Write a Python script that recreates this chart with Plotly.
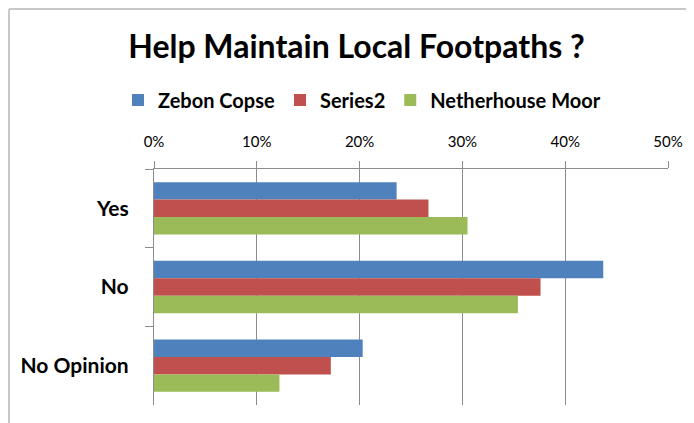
import plotly.graph_objects as go

categories = ["Yes", "No", "No Opinion"]
series_names = ["Zebon Copse", "Series2", "Netherhouse Moor"]
zebon_copse = [0.236, 0.437, 0.203]
series2 = [0.267, 0.376, 0.172]
netherhouse_moor = [0.305, 0.354, 0.122]
x_tick_values = [0, 0.1, 0.2, 0.3, 0.4, 0.5]
x_tick_labels = ["0%", "10%", "20%", "30%", "40%", "50%"]

colors = ["#4F81BD", "#C0504D", "#9BBB59"]
FONT = "Lato"

# The page body adds an 8px margin; figure is sized to fill the rest.
W, H = 686, 415
L, R, T, B = 146, 26, 161, 18
PW, PH = W - L - R, H - T - B

fig = go.Figure()
for name, vals, col in zip(series_names, [zebon_copse, series2, netherhouse_moor], colors):
    fig.add_trace(go.Bar(
        y=categories, x=vals, name=name, orientation="h",
        marker=dict(color=col, line=dict(width=0)),
    ))

border = dict(color="#C8C8C8", width=2)
fig.update_layout(
    width=W, height=H,
    margin=dict(l=L, r=R, t=T, b=B),
    paper_bgcolor="white", plot_bgcolor="white",
    barmode="group", bargap=0.335, bargroupgap=0,
    font=dict(family=FONT, color="black"),
    title=dict(text="<b>Help Maintain Local Footpaths ?</b>",
               font=dict(family=FONT, size=32, color="black"),
               x=348.5 / W, xref="container", xanchor="center",
               y=1 - 39 / H, yref="container", yanchor="middle"),
    legend=dict(orientation="h", traceorder="normal",
                x=354 / W, xref="container", xanchor="center",
                y=1 - 92 / H, yref="container", yanchor="middle",
                font=dict(family=FONT, size=20, color="black", weight="bold"),
                itemwidth=30),
    showlegend=True,
    shapes=[
        dict(type="line", xref="paper", yref="paper",
             x0=(1 - L) / PW, x1=(1 - L) / PW,
             y0=-0.3, y1=1 + (T - 1) / PH, line=border, layer="below"),
        dict(type="line", xref="paper", yref="paper",
             x0=(1 - L) / PW, x1=(W + 20 - L) / PW,
             y0=1 + (T - 1) / PH, y1=1 + (T - 1) / PH, line=border, layer="below"),
    ],
)

fig.update_xaxes(
    side="top", range=[0, 0.5], tickvals=x_tick_values, ticktext=x_tick_labels,
    showgrid=True, gridcolor="#8C8C8C", gridwidth=1.3,
    showline=True, linecolor="#8C8C8C", linewidth=1.3,
    ticks="outside", ticklen=7, tickcolor="#8C8C8C", tickwidth=1.3,
    ticklabelstandoff=8,
    tickfont=dict(family=FONT, size=15, color="black"),
    zeroline=False, fixedrange=True,
)
fig.update_yaxes(
    type="category", autorange="reversed", tickson="boundaries",
    showline=True, linecolor="#8C8C8C", linewidth=1.3,
    ticks="outside", ticklen=8, tickcolor="#8C8C8C", tickwidth=1.3,
    showgrid=False, ticklabelstandoff=20,
    tickfont=dict(family=FONT, size=21, color="black", weight="bold"),
    fixedrange=True,
)

fig.write_html("out.html")
